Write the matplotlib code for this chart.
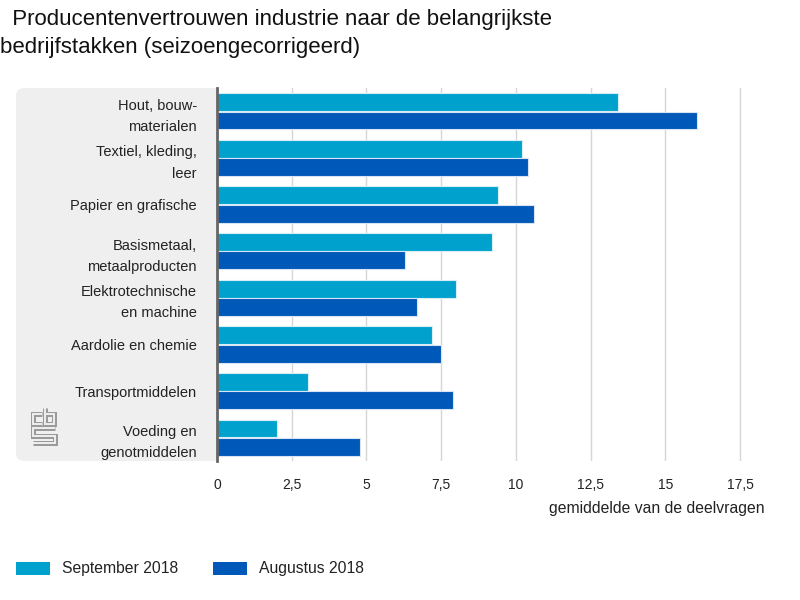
import matplotlib.pyplot as plt
from matplotlib.patches import FancyBboxPatch, Rectangle
import numpy as np

plt.rcParams['font.family'] = ['Liberation Sans', 'DejaVu Sans']

# Data
categories = ['Hout, bouw-\nmaterialen', 'Textiel, kleding,\nleer', 'Papier en grafische',
              'Basismetaal,\nmetaalproducten', 'Elektrotechnische\nen machine',
              'Aardolie en chemie', 'Transportmiddelen', 'Voeding en\ngenotmiddelen']
september_2018 = [13.4, 10.2, 9.4, 9.2, 8.0, 7.2, 3.05, 2.0]
augustus_2018 = [16.05, 10.4, 10.6, 6.3, 6.7, 7.5, 7.9, 4.8]
xticks = [0, 2.5, 5, 7.5, 10, 12.5, 15, 17.5]
xtick_labels = ['0', '2,5', '5', '7,5', '10', '12,5', '15', '17,5']

c_sep = '#00a1cd'
c_aug = '#0058b8'
txt = '#222222'

fig = plt.figure(figsize=(8, 6), dpi=100)

# grijs vlak achter de labels
W, H = 800, 600
panel = FancyBboxPatch((16 / W, (600 - 461) / H), (230 - 16) / W, (461 - 88) / H,
                       boxstyle='round,pad=0,rounding_size=0.012',
                       transform=fig.transFigure, facecolor='#efefef',
                       edgecolor='none', zorder=0)
fig.patches.append(panel)

ax = fig.add_axes([217 / W, (600 - 461) / H, (770 - 217) / W, (461 - 88) / H])
ax.set_zorder(1)

y = np.arange(len(categories))
h = 0.385
ax.barh(y - h / 2 - 0.005, september_2018, height=h, color=c_sep,
        edgecolor='#d8eef6', linewidth=0.8, zorder=3, label='September 2018')
ax.barh(y + h / 2 + 0.005, augustus_2018, height=h, color=c_aug,
        edgecolor='#d8e4f4', linewidth=0.8, zorder=3, label='Augustus 2018')

ax.set_ylim(len(categories) - 0.5, -0.5)
ax.set_xlim(0, 18.5)
ax.set_yticks(y)
ax.set_yticklabels(categories, fontsize=10.5, color=txt, linespacing=1.65)
ax.tick_params(axis='y', length=0, pad=14.5)
ax.set_xticks(xticks)
ax.set_xticklabels(xtick_labels, fontsize=10, color=txt)
ax.tick_params(axis='x', length=0, pad=12)
ax.grid(axis='x', color='#d6d6d6', linewidth=1, zorder=0)
for s in ['top', 'right', 'bottom']:
    ax.spines[s].set_visible(False)
ax.spines['left'].set_color('#666666')
ax.spines['left'].set_linewidth(2)
ax.spines['left'].set_zorder(4)

fig.text(765 / W, 1 - 509 / H, 'gemiddelde van de deelvragen', ha='right', va='center',
         fontsize=11.3, color=txt)

# titel
fig.text(0 / W, 1 - 20 / H, '  Producentenvertrouwen industrie naar de belangrijkste',
         ha='left', va='center', fontsize=16, color='#111111')
fig.text(0 / W, 1 - 47 / H, 'bedrijfstakken (seizoengecorrigeerd)',
         ha='left', va='center', fontsize=16, color='#111111')

# legenda
for x0, col, lab in [(16, c_sep, 'September 2018'), (213, c_aug, 'Augustus 2018')]:
    fig.patches.append(Rectangle((x0 / W, 1 - 575 / H), 34 / W, 13 / H,
                                 transform=fig.transFigure, facecolor=col, edgecolor='none'))
    fig.text((x0 + 46) / W, 1 - 568 / H, lab, ha='left', va='center', fontsize=11.3,
             color=txt)

# cbs-logo (vereenvoudigd, holle lijnen)
def px(xs, ys):
    return [v / W for v in xs], [1 - v / H for v in ys]

paths = [
    ([42, 33, 33, 42], [414, 414, 424, 424]),                      # c
    ([45, 45, 54, 54, 45], [408, 424, 424, 414, 414]),             # b
    ([55, 33, 33, 55, 55, 33], [428, 428, 436, 436, 443, 443]),    # s
]
for lw, col in [(3.6, '#9a9a9a'), (1.4, '#efefef')]:
    for xs, ys in paths:
        fx, fy = px(xs, ys)
        fig.add_artist(plt.Line2D(fx, fy, color=col, linewidth=lw,
                                  solid_joinstyle='miter', solid_capstyle='butt',
                                  transform=fig.transFigure))

fig.savefig('out.png', dpi=100)
